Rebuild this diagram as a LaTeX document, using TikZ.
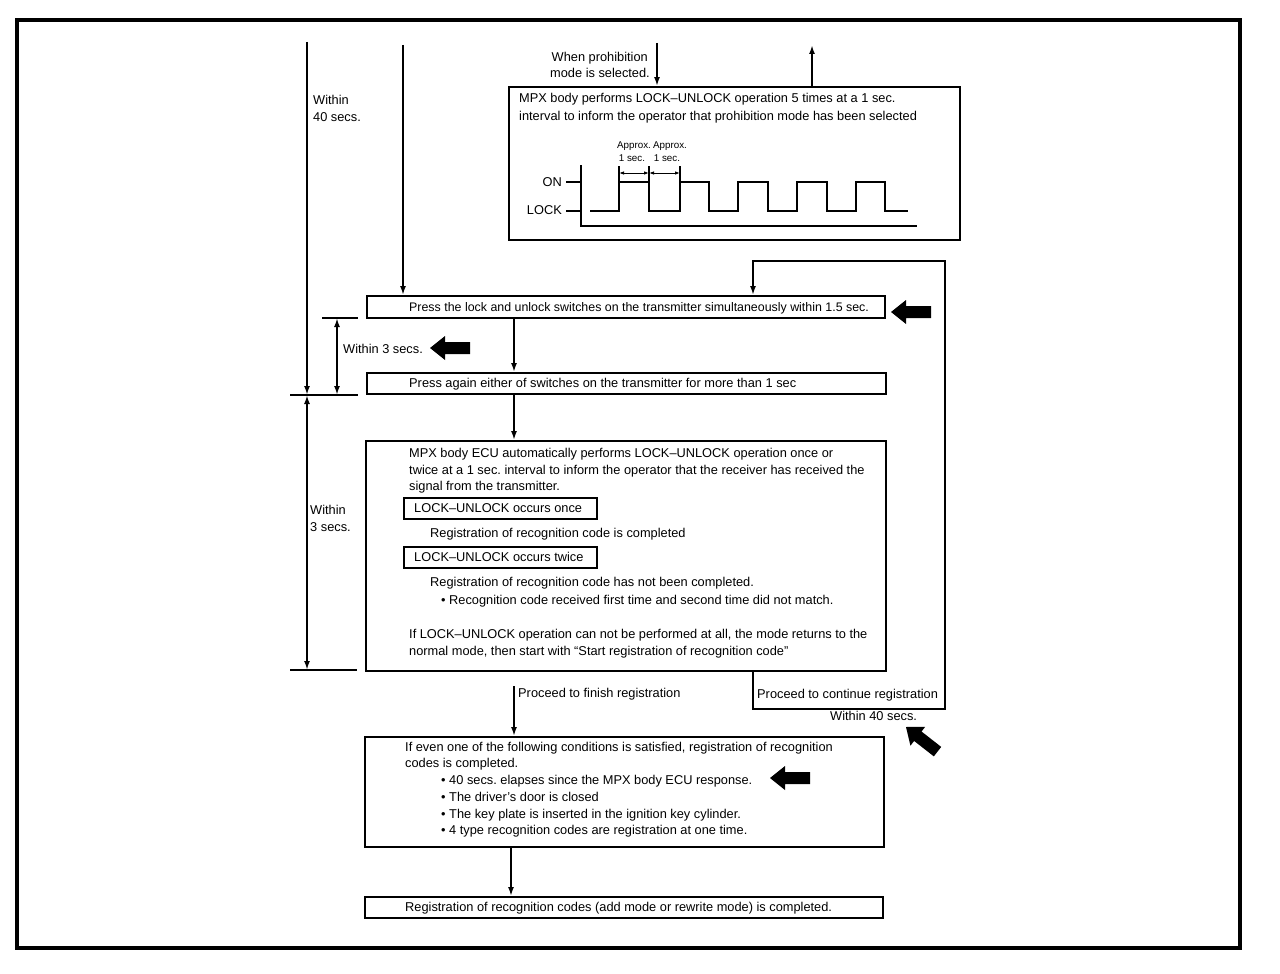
\documentclass[tikz,border=0pt]{standalone}
\usepackage{fontspec}
\setmainfont{Liberation Sans}
\usetikzlibrary{arrows.meta}
\frenchspacing
\newcommand\mainfs{\fontsize{12.8}{16.5}\selectfont}
\newcommand\smallfs{\fontsize{9.8}{12}\selectfont}
\tikzset{
  frame/.style={line width=3.5pt},
  box/.style={draw, line width=1.9pt, inner sep=0pt},
  subbox/.style={draw, line width=2.6pt, inner sep=0pt},
  txt/.style={inner sep=0pt, anchor=base west, yshift=-4.5pt, font=\mainfs},
  rtxt/.style={inner sep=0pt, anchor=base east, yshift=-4.5pt, font=\mainfs},
  stxt/.style={inner sep=0pt, anchor=mid, font=\smallfs},
  conn/.style={line width=1.8pt},
  arr/.style={conn, -{Latex[length=9pt,width=6pt]}},
  dimarr/.style={conn, {Latex[length=9pt,width=6pt]}-{Latex[length=9pt,width=6pt]}},
  tinyarr/.style={line width=1pt, {Latex[length=5pt,width=3.5pt]}-{Latex[length=5pt,width=3.5pt]}},
  tick/.style={line width=1.8pt},
  sig/.style={line width=2pt},
  bigarrow/.pic={\fill (0,0) -- (15,-12) -- (15,-6) -- (40,-6) -- (40,6) -- (15,6) -- (15,12) -- cycle;}
}
\begin{document}
\begin{tikzpicture}[x=1pt,y=-1pt]
\useasboundingbox (0,0) rectangle (1280,974);
\fill[white] (0,0) rectangle (1280,974);
% outer frame
\draw[frame] (17,20) rectangle (1240,948);

% ---------- prohibition box ----------
\node[box, minimum width=451pt, minimum height=153pt] (pb) at (734.5,163.5) {};
\node[txt] (pbt1) at (519,98) {MPX body performs LOCK\textendash UNLOCK operation 5 times at a 1 sec.};
\node[txt] (pbt2) at (519,116) {interval to inform the operator that prohibition mode has been selected};
\coordinate (pin) at (657,43);
\draw[arr] (pin) -- (pin |- pb.north);
\node[rtxt] (when1) at (648,57) {When prohibition};
\node[rtxt] (when2) at (650,73) {mode is selected.};
\coordinate (pout) at (812,45);
\draw[arr] (pout |- pb.north) -- (pout);

% pulse chart
\node[rtxt] (onl) at (562,182) {ON};
\node[rtxt] (lockl) at (562,210) {LOCK};
\draw[tick] (566,182) -- (581,182);
\draw[tick] (566,211) -- (581,211);
\draw[line width=2.4pt] (581,165) -- (581,226) -- (917,226);
\draw[sig] (590,211) -- (619,211) -- (619,182) -- (649,182) -- (649,211) -- (680,211) -- (680,182)
  -- (709,182) -- (709,211) -- (738,211) -- (738,182) -- (768,182) -- (768,211) -- (797,211)
  -- (797,182) -- (827,182) -- (827,211) -- (856,211) -- (856,182) -- (885,182) -- (885,211) -- (908,211);
\draw[sig] (619,182) -- (619,166);
\draw[sig] (649,182) -- (649,166);
\draw[sig] (680,182) -- (680,166);
\draw[tinyarr] (619,173) -- (649,173);
\draw[tinyarr] (649,173) -- (680,173);
\node[stxt] (ap1) at (634,146) {Approx.};
\node[stxt] (ap2) at (670,146) {Approx.};
\node[stxt] (s1l) at (632,159) {1 sec.};
\node[stxt] (s2l) at (667,159) {1 sec.};

% ---------- left dimension lines ----------
\coordinate (d1top) at (307,42);
\coordinate (d1bot) at (307,395);
\coordinate (d1end) at (307,670);
\draw[arr] (d1top) -- (d1bot);
\draw[dimarr] (d1bot) -- (d1end);
\node[txt] (w40a) at (313,100) {Within};
\node[txt] (w40b) at (313,117) {40 secs.};
\node[txt] (w3a) at (310,510) {Within};
\node[txt] (w3b) at (310,527) {3 secs.};
\draw[tick] (322,318) -- (358,318);
\draw[tick] (290,395) -- (358,395);
\draw[tick] (290,670) -- (357,670);
\coordinate (d2top) at (337,318);
\coordinate (d2bot) at (337,395);
\draw[dimarr] (d2top) -- (d2bot);
\node[txt] (w3s) at (343,349) {Within 3 secs.};
\pic at (430,348) {bigarrow};

% second vertical line
\coordinate (l2top) at (403,45);

% ---------- box 1 ----------
\node[box, minimum width=518pt, minimum height=22pt] (b1) at (626,307) {};
\node[txt, font=\fontsize{12.4}{16.5}\selectfont] (b1t) at (409,307) {Press the lock and unlock switches on the transmitter simultaneously within 1.5 sec.};
\draw[arr] (l2top) -- (l2top |- b1.north);
\pic at (891,312) {bigarrow};

% ---------- box 2 ----------
\node[box, minimum width=519pt, minimum height=21pt] (b2) at (626.5,383.5) {};
\node[txt] (b2t) at (409,383) {Press again either of switches on the transmitter for more than 1 sec};
\coordinate (cx) at (514,0);
\draw[arr] (b1.south -| cx) -- (b2.north -| cx);

% ---------- box 3 ----------
\node[box, minimum width=520pt, minimum height=230pt] (b3) at (626,556) {};
\draw[arr] (b2.south -| cx) -- (b3.north -| cx);
\node[txt] (b3t1) at (409,453) {MPX body ECU automatically performs LOCK\textendash UNLOCK operation once or};
\node[txt] (b3t2) at (409,470) {twice at a 1 sec. interval to inform the operator that the receiver has received the};
\node[txt] (b3t3) at (409,486) {signal from the transmitter.};
\node[subbox, minimum width=193pt, minimum height=21pt] (sb1) at (500.5,508.5) {};
\node[txt] (sb1t) at (414,508) {LOCK\textendash UNLOCK occurs once};
\node[txt] (b3t4) at (430,533) {Registration of recognition code is completed};
\node[subbox, minimum width=193pt, minimum height=21pt] (sb2) at (500.5,557.5) {};
\node[txt] (sb2t) at (414,557) {LOCK\textendash UNLOCK occurs twice};
\node[txt] (b3t5) at (430,582) {Registration of recognition code has not been completed.};
\node[txt] (b3t6) at (441,600) {\textbullet\ Recognition code received first time and second time did not match.};
\node[txt] (b3t7) at (409,634) {If LOCK\textendash UNLOCK operation can not be performed at all, the mode returns to the};
\node[txt] (b3t8) at (409,651) {normal mode, then start with \textquotedblleft Start registration of recognition code\textquotedblright};

% ---------- loop back ----------
\coordinate (lx) at (753,0);
\coordinate (loopbr) at (945,709);
\coordinate (looptr) at (945,261);
\draw[arr] (b3.south -| lx) |- (loopbr) -- (looptr) -| (b1.north -| lx);
\node[txt] (cont) at (757,694) {Proceed to continue registration};
\node[txt] (w40c) at (830,716) {Within 40 secs.};
\pic[rotate=-38] at (906,727) {bigarrow};

% ---------- box 4 ----------
\node[box, minimum width=519pt, minimum height=110pt] (b4) at (624.5,792) {};
\coordinate (fin) at (514,686);
\draw[arr] (fin) -- (fin |- b4.north);
\node[txt] (fint) at (518,693) {Proceed to finish registration};
\node[txt] (b4t1) at (405,747) {If even one of the following conditions is satisfied, registration of recognition};
\node[txt] (b4t2) at (405,763) {codes is completed.};
\node[txt] (b4t3) at (441,780) {\textbullet\ 40 secs. elapses since the MPX body ECU response.};
\node[txt] (b4t4) at (441,797) {\textbullet\ The driver’s door is closed};
\node[txt] (b4t5) at (441,814) {\textbullet\ The key plate is inserted in the ignition key cylinder.};
\node[txt] (b4t6) at (441,830) {\textbullet\ 4 type recognition codes are registration at one time.};
\pic at (770,778) {bigarrow};

% ---------- box 5 ----------
\node[box, minimum width=518pt, minimum height=21pt] (b5) at (624,907.5) {};
\node[txt] (b5t) at (405,907) {Registration of recognition codes (add mode or rewrite mode) is completed.};
\coordinate (cx2) at (511,0);
\draw[arr] (b4.south -| cx2) -- (b5.north -| cx2);
\end{tikzpicture}
\end{document}
